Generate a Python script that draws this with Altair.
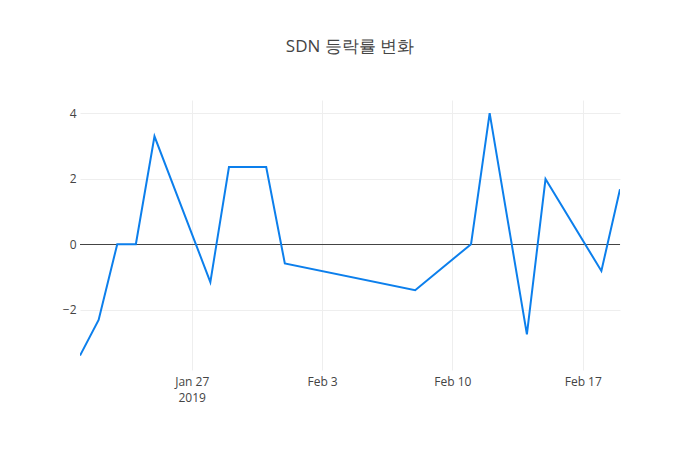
import altair as alt
import pandas as pd

dates = ["2019-01-21", "2019-01-22", "2019-01-23", "2019-01-24", "2019-01-25",
         "2019-01-28", "2019-01-29", "2019-01-31", "2019-02-01", "2019-02-08",
         "2019-02-11", "2019-02-12", "2019-02-14", "2019-02-15", "2019-02-18",
         "2019-02-19"]
changes = [-3.41, -2.32, 0.0, 0.0, 3.30,
           -1.16, 2.36, 2.36, -0.59, -1.41,
           0.0, 4.01, -2.76, 1.99, -0.82,
           1.68]
y_ticks = [-2, 0, 2, 4]
title_text = "SDN 등락률 변화"

df = pd.DataFrame({"date": dates, "change": changes})

FONT = "Open Sans"
x_scale = alt.Scale(type="utc",
                    domain=[alt.DateTime(year=2019, month=1, date=21, utc=True),
                            alt.DateTime(year=2019, month=2, date=19, utc=True)])
x_ticks = [alt.DateTime(year=2019, month=1, date=27, utc=True),
           alt.DateTime(year=2019, month=2, date=3, utc=True),
           alt.DateTime(year=2019, month=2, date=10, utc=True),
           alt.DateTime(year=2019, month=2, date=17, utc=True)]

line = alt.Chart(df).mark_line(color="#0c7fec", strokeWidth=2, clip=True).encode(
    x=alt.X("date:T", scale=x_scale, title=None,
            axis=alt.Axis(values=x_ticks, grid=True, gridColor="#eeeeee",
                          domain=False, ticks=False, labelPadding=6,
                          labelFont=FONT, labelFontSize=12, labelColor="#444444",
                          labelLineHeight=16,
                          labelExpr="utcFormat(datum.value, '%b %-d') == 'Jan 27' ? ['Jan 27', '2019'] : utcFormat(datum.value, '%b %-d')")),
    y=alt.Y("change:Q", scale=alt.Scale(domain=[-3.85, 4.41], nice=False, zero=False),
            title=None,
            axis=alt.Axis(values=y_ticks, grid=True, gridColor="#eeeeee",
                          domain=False, ticks=False, labelPadding=4,
                          labelFont=FONT, labelFontSize=12, labelColor="#444444")),
)

zero = alt.Chart(pd.DataFrame({"z": [0]})).mark_rule(
    color="#444444", strokeWidth=1, yOffset=0.35
).encode(y=alt.Y("z:Q"))

chart = alt.layer(zero, line).properties(
    width=540, height=270,
    background="white",
    title=alt.TitleParams(title_text, font=FONT, fontSize=17, fontWeight="normal",
                          color="#444444", anchor="middle", offset=44),
    autosize=alt.AutoSizeParams(type="none"),
    padding={"left": 80, "top": 100, "right": 80, "bottom": 80},
).configure_view(strokeWidth=0, stroke="transparent")

chart.save("out.html", embed_options={"renderer": "svg", "actions": False})
